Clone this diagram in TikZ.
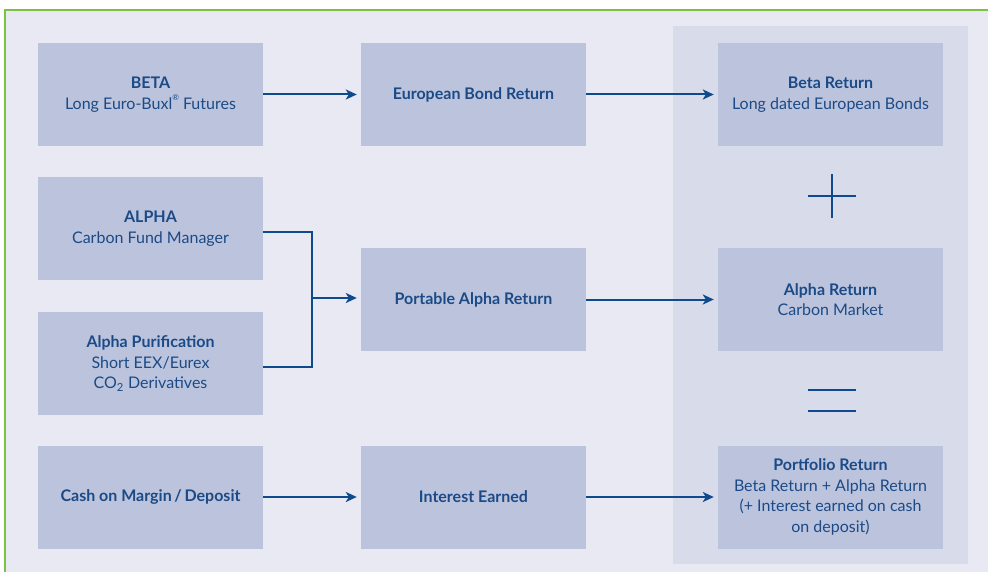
\documentclass[tikz,border=0pt]{standalone}
\usepackage{fontspec}
\setmainfont{Lato}
\usetikzlibrary{arrows.meta}
\definecolor{bgc}{HTML}{E9E9F3}
\definecolor{panelc}{HTML}{D8DCEA}
\definecolor{boxc}{HTML}{BCC4DD}
\definecolor{txtc}{HTML}{1B4A86}
\definecolor{arrc}{HTML}{0E4A8C}
\definecolor{greenc}{HTML}{7DC142}
\tikzset{
  fbox/.style={fill=boxc, draw=none, minimum width=225pt, minimum height=103pt, inner sep=0pt,
    align=center, text=txtc, font=\fontsize{16}{20.5}\selectfont},
  conn/.style={draw=arrc, line width=2pt},
  arr/.style={conn, -{Stealth[length=11pt,width=10pt,inset=3pt]}},
  sym/.style={draw=arrc, line width=2pt}
}
\newcommand{\regmark}{\raisebox{0.55em}{\fontsize{8}{8}\selectfont ®}}
\begin{document}
\begin{tikzpicture}[x=1pt,y=-1pt]
\useasboundingbox (0,0) rectangle (988,572);
\fill[white] (0,0) rectangle (988,572);
\fill[bgc] (5,10) rectangle (988,572);
\draw[greenc, line width=2pt] (5,572) -- (5,10) -- (988,10);
\fill[panelc] (673,26) rectangle (968,564);

\node[fbox] (beta) at (150.5,94.5) {\textbf{BETA}\\Long Euro-Buxl\regmark{} Futures};
\node[fbox] (alpha) at (150.5,228.5) {\textbf{ALPHA}\\Carbon Fund Manager};
\node[fbox] (pur) at (150.5,363.5) {\textbf{Alpha Purification}\\Short EEX/Eurex\\CO\textsubscript{2} Derivatives};
\node[fbox] (cash) at (150.5,497) {\textbf{Cash on Margin\,/\,Deposit}};

\node[fbox] (ebr) at (473.5,94.5) {\textbf{European Bond Return}};
\node[fbox] (par) at (473.5,299.5) {\textbf{Portable Alpha Return}};
\node[fbox] (ie) at (473.5,497) {\textbf{Interest Earned}};

\node[fbox] (br) at (830.5,94.5) {\textbf{Beta Return}\\Long dated European Bonds};
\node[fbox] (ar) at (830.5,299.5) {\textbf{Alpha Return}\\Carbon Market};
\node[fbox] (pr) at (830.5,497) {\textbf{Portfolio Return}\\Beta Return + Alpha Return\\(+ Interest earned on cash\\on deposit)};

\draw[arr] (beta.east) -- ([xshift=-4pt]ebr.west);
\draw[arr] (ebr.east) -- ([xshift=-4pt]br.west);
\draw[arr] (cash.east) -- ([xshift=-4pt]ie.west);
\draw[arr] (ie.east) -- ([xshift=-4pt]pr.west);
\draw[arr] (par.east) -- ([xshift=-4pt]ar.west);

\coordinate (j) at (312,298);
\draw[conn] ([yshift=-3.5pt]alpha.east) -| (j) |- ([yshift=-3.5pt]pur.east);
\draw[arr] (j) -- ([xshift=-4pt,yshift=1.5pt]par.west);

\node (plus) at (832,196) {};
\draw[sym] ([xshift=-24pt]plus.center) -- ([xshift=24pt]plus.center);
\draw[sym] ([yshift=-22pt]plus.center) -- ([yshift=22pt]plus.center);
\node (eq) at (832,400.5) {};
\draw[sym] ([xshift=-24pt,yshift=-10.5pt]eq.center) -- ([xshift=24pt,yshift=-10.5pt]eq.center);
\draw[sym] ([xshift=-24pt,yshift=10.5pt]eq.center) -- ([xshift=24pt,yshift=10.5pt]eq.center);
\end{tikzpicture}
\end{document}
